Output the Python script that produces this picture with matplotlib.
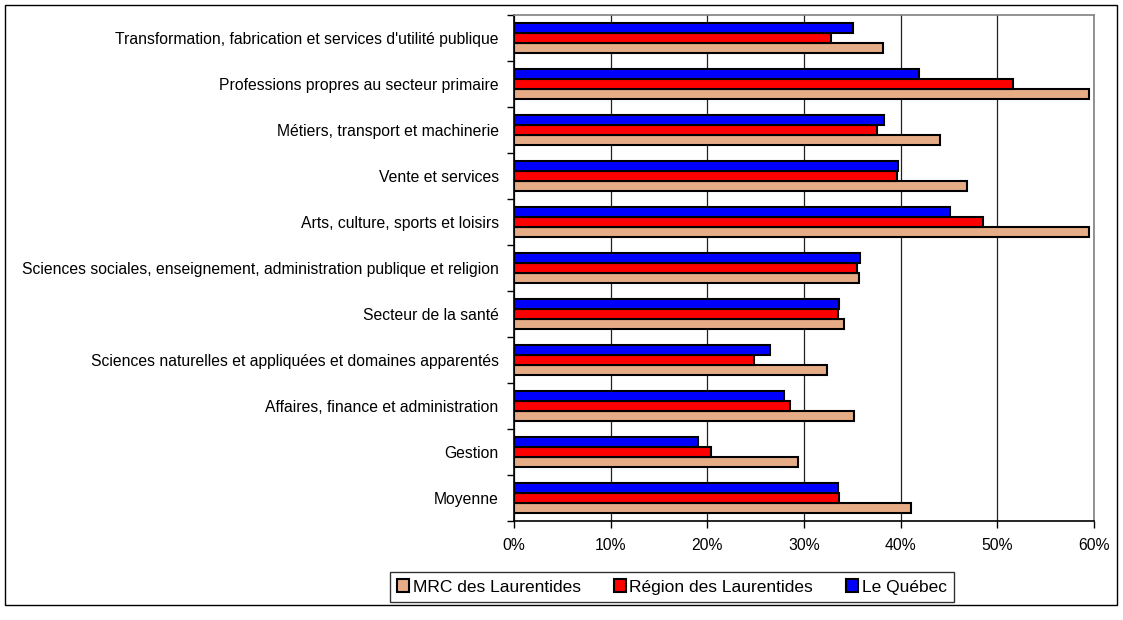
import numpy as np
import matplotlib.pyplot as plt
from matplotlib.patches import Rectangle

plt.rcParams['font.family'] = ['Liberation Sans', 'DejaVu Sans']

# categories listed bottom -> top
categories = [
    "Moyenne",
    "Gestion",
    "Affaires, finance et administration",
    "Sciences naturelles et appliquées et domaines apparentés",
    "Secteur de la santé",
    "Sciences sociales, enseignement, administration publique et religion",
    "Arts, culture, sports et loisirs",
    "Vente et services",
    "Métiers, transport et machinerie",
    "Professions propres au secteur primaire",
    "Transformation, fabrication et services d'utilité publique",
]
mrc = [41.1, 29.4, 35.2, 32.4, 34.1, 35.7, 59.5, 46.9, 44.1, 59.5, 38.2]
region = [33.6, 20.4, 28.5, 24.8, 33.5, 35.5, 48.5, 39.6, 37.6, 51.6, 32.8]
quebec = [33.5, 19.0, 27.9, 26.5, 33.6, 35.8, 45.1, 39.7, 38.3, 41.9, 35.1]
series_names = ["MRC des Laurentides", "Région des Laurentides", "Le Québec"]

fs = 11.3

fig = plt.figure(figsize=(11.23, 6.2), dpi=100)
ax = fig.add_axes([514 / 1123, 1 - 521 / 620, (1094 - 514) / 1123, (521 - 15) / 620])

y = np.arange(len(categories))
h = 0.224
ax.barh(y - h, np.array(mrc) / 100, height=h, color='#E6AC86', edgecolor='black', lw=1.5,
        label=series_names[0], zorder=3)
ax.barh(y, np.array(region) / 100, height=h, color='#FF0000', edgecolor='black', lw=1.5,
        label=series_names[1], zorder=3)
ax.barh(y + h, np.array(quebec) / 100, height=h, color='#0000FF', edgecolor='black', lw=1.5,
        label=series_names[2], zorder=3)

ax.set_xlim(0, 0.6)
ax.set_ylim(-0.5, len(categories) - 0.5)
ax.set_xticks(np.arange(0, 0.61, 0.1))
ax.set_xticklabels([f"{int(round(v * 100))}%" for v in np.arange(0, 0.61, 0.1)], fontsize=fs)
ax.set_yticks(y)
ax.set_yticklabels(categories, fontsize=fs)
ax.set_yticks(np.arange(-0.5, len(categories), 1), minor=True)
ax.tick_params(axis='y', which='major', length=0, pad=11)
ax.tick_params(axis='y', which='minor', length=5, direction='out', width=1)
ax.tick_params(axis='x', length=5, direction='out', width=1, pad=7)

ax.grid(axis='x', color='#202020', lw=0.9, zorder=0)
for s in ['left', 'bottom']:
    ax.spines[s].set_color('black')
    ax.spines[s].set_linewidth(1.2)
for s in ['top', 'right']:
    ax.spines[s].set_color('#808080')
    ax.spines[s].set_linewidth(1.2)

leg = fig.legend(loc='center', bbox_to_anchor=(672 / 1123, 1 - 587 / 620), ncol=3,
                 fontsize=12.5, frameon=True, fancybox=False, edgecolor='black',
                 handlelength=0.7, handleheight=0.7, handletextpad=0.2, columnspacing=1.9,
                 borderpad=0.4)
leg.get_frame().set_linewidth(1.0)

fig.patches.append(Rectangle((5 / 1123, 1 - 605 / 620), 1112 / 1123, 600 / 620,
                             transform=fig.transFigure, fill=False, edgecolor='black', lw=1))

fig.savefig('out.png', dpi=100)
